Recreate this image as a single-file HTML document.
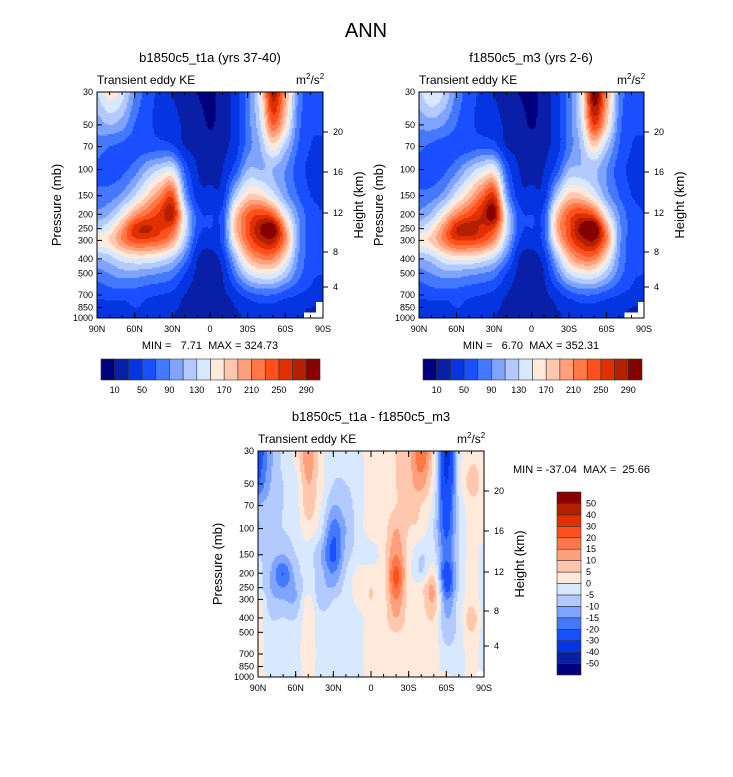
<!DOCTYPE html>
<html><head><meta charset="utf-8">
<style>
body{margin:0;background:#fff;}
svg{font-family:"Liberation Sans",Arial,sans-serif;}
text{white-space:pre;}
</style></head>
<body>
<svg id="fig" width="733" height="772" viewBox="0 0 733 772" xmlns="http://www.w3.org/2000/svg">
<rect width="733" height="772" fill="#fff"/>
<text x="366" y="37" font-size="20" text-anchor="middle">ANN</text>
</svg>
<script>
const levels=[30,50,70,100,150,200,250,300,400,500,700,850,1000];
const N=NaN;
const field1=[
[130,160,140,90,60,45,30,20,10,5,20,40,80,150,280,200,90,60,60],
[100,110,100,70,55,45,40,25,20,8,20,40,80,130,230,170,80,55,55],
[80,70,65,60,60,60,55,30,25,20,25,40,80,110,160,120,70,50,45],
[65,60,65,80,110,130,140,65,30,25,30,60,110,110,110,90,60,45,40],
[75,80,95,130,170,210,240,100,40,35,40,120,170,170,140,100,70,50,45],
[95,110,150,200,230,255,280,140,60,50,60,170,230,250,230,150,90,60,50],
[130,150,200,260,275,255,235,140,60,50,60,180,240,290,310,200,100,60,50],
[160,170,210,240,240,230,200,120,50,40,60,160,230,270,280,210,100,60,50],
[110,120,140,150,150,140,120,80,30,20,40,110,180,210,210,160,90,60,50],
[80,90,100,100,95,90,80,50,25,15,30,80,130,150,150,120,80,55,50],
[55,60,60,60,55,50,45,30,20,15,25,40,60,70,70,60,50,45,40],
[40,40,40,50,45,40,35,25,20,15,20,30,40,45,45,40,35,30,N],
[35,35,30,40,40,35,30,20,15,10,20,25,35,40,40,35,30,N,N]];
const field2=[
[125,150,130,85,60,45,30,20,10,5,20,40,80,150,310,210,90,60,60],
[95,100,90,70,55,45,40,25,20,8,20,40,80,135,250,175,80,55,55],
[75,65,60,60,60,65,60,30,25,20,25,40,80,115,170,120,70,50,45],
[60,55,65,85,115,140,150,65,30,25,30,60,110,115,115,90,60,45,40],
[75,80,100,140,180,225,255,100,40,35,40,120,175,175,145,100,70,50,45],
[95,115,160,210,240,270,300,140,60,50,60,175,235,255,235,150,90,60,50],
[130,155,210,270,285,265,245,140,60,50,60,185,245,300,320,205,100,60,50],
[160,175,215,250,250,240,205,120,50,40,60,165,235,275,290,215,100,60,50],
[110,120,145,155,155,145,125,80,30,20,40,110,180,215,215,160,90,60,50],
[80,90,100,100,95,90,80,50,25,15,30,80,130,150,150,120,80,55,50],
[55,60,60,60,55,50,45,30,20,15,25,40,60,70,70,60,50,45,40],
[40,40,40,50,45,40,35,25,20,15,20,30,40,45,45,40,35,30,N],
[35,35,30,40,40,35,30,20,15,10,20,25,35,40,40,35,30,N,N]];
const fieldDiff=[
[-25,-12,-3,2,15,2,-3,-3,-2,3,3,5,8,20,3,-35,-3,3,3],
[-20,-10,-5,-2,10,2,-5,-5,-3,3,3,5,8,12,0,-30,-3,7,3],
[-10,-8,-5,-3,8,0,-10,-7,-3,3,3,5,8,5,-3,-25,-5,3,2],
[-10,-8,-5,-3,3,-3,-18,-10,-3,3,3,10,5,3,-5,-22,-5,2,2],
[-5,-8,-10,-5,-3,-10,-22,-8,-3,-3,3,15,3,-5,-3,-18,-5,2,-2],
[-3,-10,-20,-8,-3,-8,-15,-5,2,3,3,22,3,-5,3,-25,-5,2,-2],
[-3,-10,-15,-10,-3,-8,-10,-3,2,5,3,20,3,3,10,-22,-5,2,-2],
[2,-8,-10,-10,2,-8,-5,-3,2,5,3,15,3,3,10,-15,-3,3,-2],
[2,-5,-5,-5,3,-3,-3,-3,-2,3,3,10,3,3,5,-10,-3,8,-2],
[2,-3,-3,-3,3,-3,-3,-3,-2,3,3,5,3,3,3,-8,-3,5,-2],
[2,-2,-2,-2,3,-2,-2,-2,-2,3,3,3,3,3,3,-3,-2,2,-2],
[2,-2,-2,-2,2,-2,-2,-2,-2,3,3,3,3,3,2,-3,-2,2,-2],
[3,-2,-2,-2,2,-2,-2,-2,-2,2,2,2,2,2,2,2,-2,2,N]];
const contours1=[10,30,50,70,90,110,130,150,170,190,210,230,250,270,290];
const contours1Labels=[10,50,90,130,170,210,250,290];
const contoursDiff=[-50,-40,-30,-20,-15,-10,-5,0,5,10,15,20,30,40,50];
const pTicks=[30,50,70,100,150,200,250,300,400,500,700,850,1000];
const latTicks=[90,60,30,0,-30,-60,-90];
const latTickLabels=["90N","60N","30N","0","30S","60S","90S"];
const kmTicks=[4,8,12,16,20];
const colors=["#00007f","#0a1fa8","#0535e0","#1a4fff","#4478ff","#7ea4ff","#b2caff","#d8e8ff","#ffe9da","#ffc8ae","#ffa07c","#ff7846","#ff501e","#e03000","#b41f00","#880000"];

const NS="http://www.w3.org/2000/svg";
const svg=document.getElementById('fig');
function el(tag,attrs,parent){const e=document.createElementNS(NS,tag);for(const k in attrs)e.setAttribute(k,attrs[k]);(parent||svg).appendChild(e);return e;}
function txt(s,attrs,parent){const e=el('text',attrs,parent);e.textContent=s;return e;}

function getv(field,j,i){
  const nr=field.length,nc=field[0].length;
  j=Math.max(0,Math.min(nr-1,j));i=Math.max(0,Math.min(nc-1,i));
  let v=field[j][i];
  if(isNaN(v)){
    for(let d=1;d<nc&&isNaN(v);d++){const a=field[j][Math.max(0,i-d)];if(!isNaN(a))v=a;}
    if(isNaN(v)&&j>0)v=getv(field,j-1,i);
  }
  return v;
}
function cr(p0,p1,p2,p3,t){return 0.5*((2*p1)+(-p0+p2)*t+(2*p0-5*p1+4*p2-p3)*t*t+(-p0+3*p1-3*p2+p3)*t*t*t);}
function sample(field,lat,p){
  const nc=field[0].length,dl=180/(nc-1);
  const fi=Math.max(0,Math.min(nc-1,(90-lat)/dl));let i0=Math.min(Math.floor(fi),nc-2);const tx=fi-i0;
  let j0=0;
  for(let j=0;j<levels.length-1;j++){if(p>=levels[j]&&p<=levels[j+1]){j0=j;break;}}
  if(p>levels[levels.length-1])j0=levels.length-2;
  const ty=Math.max(0,Math.min(1,(Math.log(p)-Math.log(levels[j0]))/(Math.log(levels[j0+1])-Math.log(levels[j0]))));
  const ir=Math.round(fi),jr=Math.round(j0+ty);
  if(isNaN(field[jr][ir]))return NaN;
  const rows=[];
  for(let dj=-1;dj<=2;dj++){
    const j=j0+dj;
    rows.push(cr(getv(field,j,i0-1),getv(field,j,i0),getv(field,j,i0+1),getv(field,j,i0+2),tx));
  }
  return cr(rows[0],rows[1],rows[2],rows[3],ty);
}
function colorIdx(v,cont){let k=0;while(k<cont.length&&v>=cont[k])k++;return k;}

function panel(x0,y0,W,H,field,cont,name){
  const g=el('g',{});
  
  
  const xs=lat=>x0+(90-lat)/180*W;
  const ys=p=>y0+Math.log(p/30)/Math.log(1000/30)*H;
  const step=1.5;
  for(let py=0;py<H;py+=step){
    const p=30*Math.pow(1000/30,(py+step/2)/H);
    let runStart=0,runCol=null;
    for(let px=0;px<W+step;px+=step){
      let col=null;
      if(px<W){const lat=90-(px+step/2)/W*180;const v=sample(field,lat,p);col=isNaN(v)?"#ffffff":colors[colorIdx(v,cont)];}
      if(col!==runCol){
        if(runCol!==null){const r=el('rect',{x:x0+runStart,y:y0+py,width:Math.min(px,W)-runStart+0.3,height:Math.min(step,H-py)+0.3,fill:runCol,'shape-rendering':'crispEdges'},g);}
        runStart=px;runCol=col;
      }
    }
  }
  el('rect',{x:x0,y:y0,width:W,height:H,fill:'none',stroke:'#000','stroke-width':1},g);
  pTicks.forEach(p=>{const y=ys(p);el('line',{x1:x0,x2:x0+5,y1:y,y2:y,stroke:'#000'},g);
    const t=txt(String(p),{x:x0-4,y:y+3,'font-size':9,'text-anchor':'end'},g);});
  latTicks.forEach((l,i)=>{const x=xs(l);el('line',{x1:x,x2:x,y1:y0+H,y2:y0+H-6,stroke:'#000'},g);el('line',{x1:x,x2:x,y1:y0,y2:y0+6,stroke:'#000'},g);
    const t=txt(latTickLabels[i],{x:x,y:y0+H+14,'font-size':9,'text-anchor':'middle'},g);});
  for(let l=90;l>=-90;l-=10){const x=xs(l);el('line',{x1:x,x2:x,y1:y0+H,y2:y0+H-3,stroke:'#000'},g);el('line',{x1:x,x2:x,y1:y0,y2:y0+3,stroke:'#000'},g);}
  const kmOff=[195,160,121,80,40];
  kmTicks.forEach((k,i)=>{const y=y0+kmOff[i]*H/226;el('line',{x1:x0+W,x2:x0+W+5,y1:y,y2:y,stroke:'#000'},g);
    const t=txt(String(k),{x:x0+W+10,y:y+3,'font-size':9},g);});
  let t=txt('Transient eddy KE',{x:x0,y:y0-8,'font-size':12},g);
  t=el('text',{x:x0+W-27,y:y0-8,'font-size':12},g);t.innerHTML='m<tspan font-size="8" dy="-5">2</tspan><tspan dy="5">/s</tspan><tspan font-size="8" dy="-5">2</tspan>';
  t=txt('Pressure (mb)',{transform:`translate(${x0-36},${y0+H/2}) rotate(-90)`,'font-size':13,'text-anchor':'middle'},g);
  t=txt('Height (km)',{transform:`translate(${x0+W+40},${y0+H/2}) rotate(-90)`,'font-size':13,'text-anchor':'middle'},g);
}

function hbar(x0,y0,W,H){
  const g=el('g',{});
  const bw=W/colors.length;
  colors.forEach((c,i)=>{const r=el('rect',{x:x0+i*bw,y:y0,width:bw,height:H,fill:c,stroke:'#333','stroke-width':0.6},g);});
  contours1.forEach((v,i)=>{if(contours1Labels.includes(v)){const t=txt(String(v),{x:x0+(i+1)*bw,y:y0+H+13,'font-size':9,'text-anchor':'middle'},g);}});
}
function vbar(x0,y0,W,H){
  const g=el('g',{});
  const bh=H/colors.length;
  colors.forEach((c,i)=>{const r=el('rect',{x:x0,y:y0+H-(i+1)*bh,width:W,height:bh,fill:c,stroke:'#333','stroke-width':0.6},g);});
  contoursDiff.forEach((v,i)=>{const t=txt(String(v),{x:x0+W+5,y:y0+H-(i+1)*bh+3,'font-size':9},g);});
}

panel(97,92,226,226,field1,contours1,'panel-b1850c5');
panel(419,92,225,226,field2,contours1,'panel-f1850c5');
panel(258,451,226,226,fieldDiff,contoursDiff,'panel-difference');
hbar(101,359,219,21);
hbar(423,359,219,21);
vbar(557,492,24,183);

let t;
t=txt('b1850c5_t1a (yrs 37-40)',{x:210,y:62,'font-size':13,'text-anchor':'middle'});
t=txt('f1850c5_m3 (yrs 2-6)',{x:531,y:62,'font-size':13,'text-anchor':'middle'});
t=txt('b1850c5_t1a - f1850c5_m3',{x:371,y:421,'font-size':13,'text-anchor':'middle'});
t=txt('MIN =   7.71  MAX = 324.73',{x:210,y:349,'font-size':11,'text-anchor':'middle'});
t=txt('MIN =   6.70  MAX = 352.31',{x:531,y:349,'font-size':11,'text-anchor':'middle'});
t=txt('MIN = -37.04  MAX =  25.66',{x:513,y:473,'font-size':11});
</script>
</body></html>
